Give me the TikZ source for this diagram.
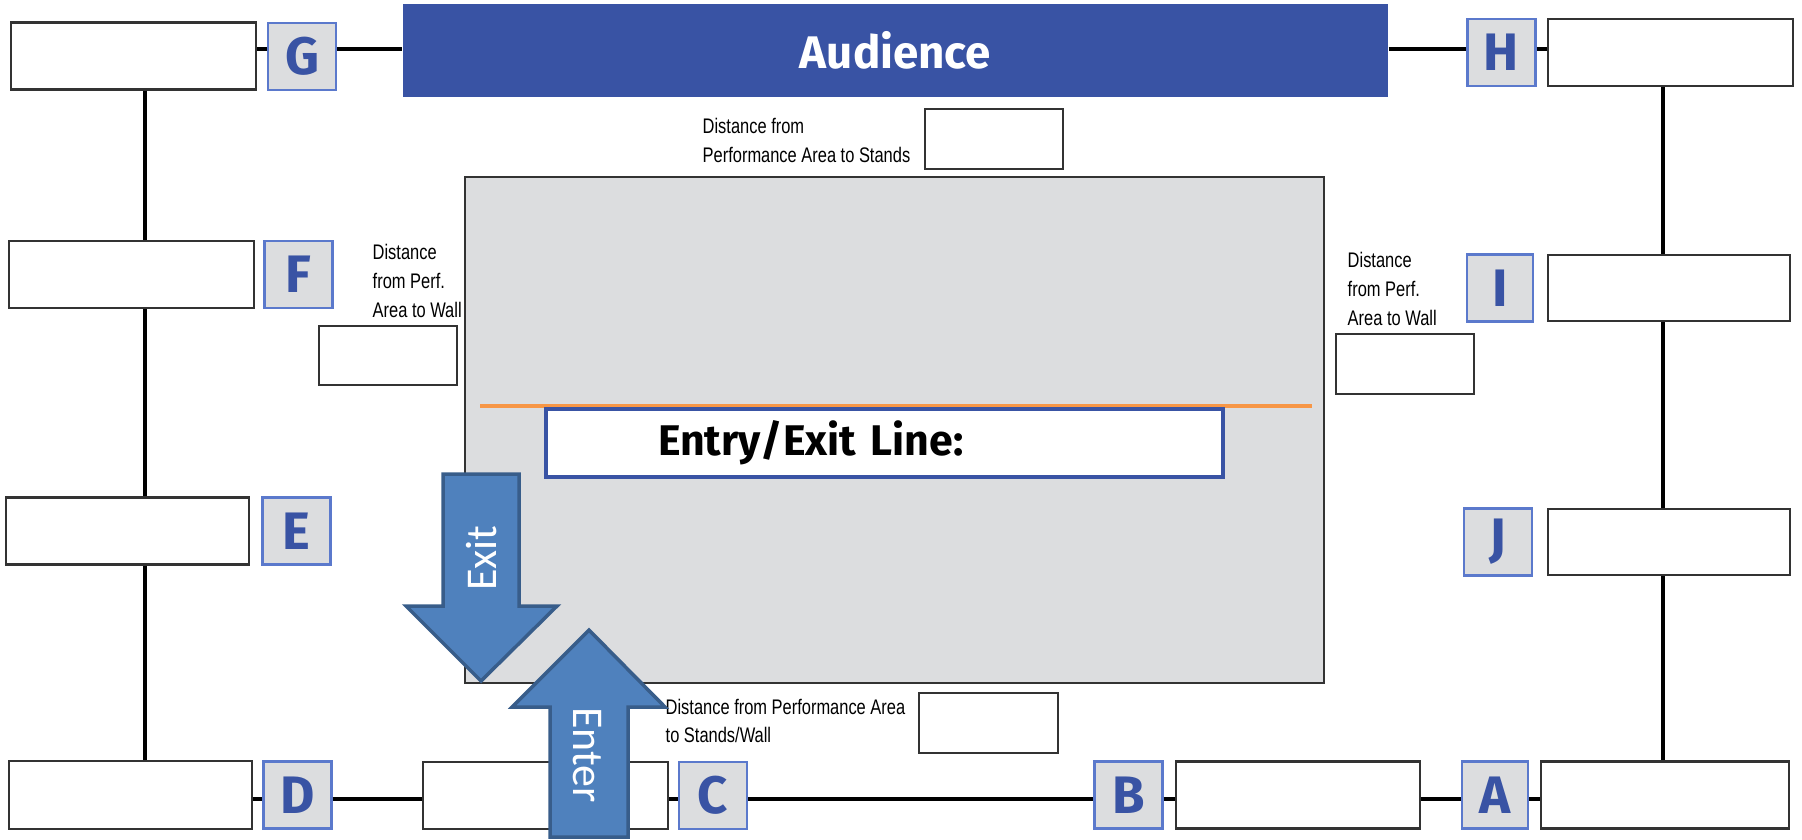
\documentclass[tikz,border=0pt]{standalone}
\usepackage{fontspec}
\newfontfamily\tagfont{Fira Sans}
\newfontfamily\narrowfont{Liberation Sans}[FakeStretch=0.78]
\newfontfamily\arrowfont{Carlito}
\definecolor{tagblue}{HTML}{3953A4}
\definecolor{tagedge}{HTML}{5B79CC}
\definecolor{stagegray}{HTML}{DCDDDF}
\definecolor{boxedge}{HTML}{333333}
\definecolor{arrowfill}{HTML}{4F81BD}
\definecolor{arrowedge}{HTML}{385D8A}
\definecolor{linecolor}{HTML}{F79646}
\tikzset{
	ansbox/.style={draw=boxedge, fill=white, line width=0.6pt, minimum width=2.45cm, minimum height=0.67cm, inner sep=0pt},
	tagbox/.style={draw=tagedge, fill=stagegray, line width=0.6pt, minimum width=0.68cm, minimum height=0.67cm, inner sep=0pt, text=tagblue, font=\tagfont\bfseries\fontsize{15}{15}\selectfont},
	distbox/.style={draw=boxedge, fill=white, line width=0.6pt, minimum width=1.38cm, minimum height=0.6cm, inner sep=0pt},
	disttext/.style={anchor=north west, inner sep=0pt, align=left, font=\narrowfont\fontsize{6}{8.2}\selectfont},
	chain/.style={draw=black, line width=0.9pt},
	arrowbody/.style={fill=arrowfill, draw=arrowedge, line width=1pt, line join=miter},
	arrowtext/.style={text=white, font=\arrowfont\fontsize{12.5}{12.5}\selectfont, inner sep=0pt}
}
\begin{document}
\begin{tikzpicture}
	\useasboundingbox (0,0) rectangle (18.02,-8.39);
	\draw[draw=boxedge, fill=stagegray, line width=0.7pt] (4.65,-1.77) rectangle (13.24,-6.83);
	\node[ansbox] (gbox) at (1.335,-0.56) {};
	\node[tagbox] (g) at (3.02,-0.565) {G};
	\node[fill=tagblue, minimum width=9.85cm, minimum height=0.93cm, inner sep=0pt, text=white, font=\tagfont\bfseries\fontsize{13}{13}\selectfont] (audience) at (8.955,-0.505) {Audience};
	\node[tagbox] (h) at (15.015,-0.525) {H};
	\node[ansbox] (hbox) at (16.705,-0.525) {};
	\node[ansbox] (fbox) at (1.315,-2.745) {};
	\node[tagbox] (f) at (2.985,-2.745) {F};
	\node[ansbox, minimum width=2.43cm] (ebox) at (1.275,-5.31) {};
	\node[tagbox] (e) at (2.965,-5.31) {E};
	\node[ansbox, minimum width=2.43cm, minimum height=0.68cm] (dbox) at (1.305,-7.95) {};
	\node[tagbox] (d) at (2.975,-7.95) {D};
	\node[ansbox] (cbox) at (5.455,-7.955) {};
	\node[tagbox] (c) at (7.13,-7.955) {C};
	\node[tagbox] (b) at (11.285,-7.95) {B};
	\node[ansbox, minimum width=2.44cm] (bbox) at (12.98,-7.95) {};
	\node[tagbox, minimum width=0.66cm] (a) at (14.95,-7.95) {A};
	\node[ansbox, minimum width=2.48cm] (abox) at (16.65,-7.95) {};
	\node[tagbox, minimum width=0.66cm] (i) at (15.0,-2.88) {I};
	\node[ansbox, minimum width=2.42cm, minimum height=0.66cm] (ibox) at (16.69,-2.88) {};
	\node[tagbox] (j) at (14.98,-5.42) {J};
	\node[ansbox, minimum width=2.42cm, minimum height=0.66cm] (jbox) at (16.69,-5.42) {};
	\coordinate (lcol) at (1.45,0);
	\coordinate (rcol) at (16.63,0);
	\coordinate (toprow) at (0,-0.49);
	\coordinate (botrow) at (0,-7.99);
	\draw[chain] (gbox.east |- toprow) -- (g.west |- toprow);
	\draw[chain] (g.east |- toprow) -- (audience.west |- toprow);
	\draw[chain] (audience.east |- toprow) -- (h.west |- toprow);
	\draw[chain] (h.east |- toprow) -- (hbox.west |- toprow);
	\draw[chain] (gbox.south -| lcol) -- (fbox.north -| lcol);
	\draw[chain] (fbox.south -| lcol) -- (ebox.north -| lcol);
	\draw[chain] (ebox.south -| lcol) -- (dbox.north -| lcol);
	\draw[chain] (hbox.south -| rcol) -- (ibox.north -| rcol);
	\draw[chain] (ibox.south -| rcol) -- (jbox.north -| rcol);
	\draw[chain] (jbox.south -| rcol) -- (abox.north -| rcol);
	\draw[chain] (dbox.east |- botrow) -- (d.west |- botrow);
	\draw[chain] (d.east |- botrow) -- (cbox.west |- botrow);
	\draw[chain] (cbox.east |- botrow) -- (c.west |- botrow);
	\draw[chain] (c.east |- botrow) -- (b.west |- botrow);
	\draw[chain] (b.east |- botrow) -- (bbox.west |- botrow);
	\draw[chain] (bbox.east |- botrow) -- (a.west |- botrow);
	\draw[chain] (a.east |- botrow) -- (abox.west |- botrow);
	\node[disttext] (standstext) at (7.02,-1.18) {Distance from\\Performance Area to Stands};
	\node[distbox] (standsbox) at (9.94,-1.39) {};
	\node[disttext] (lwalltext) at (3.72,-2.44) {Distance\\from Perf.\\Area to Wall};
	\node[distbox, minimum height=0.59cm] (lwallbox) at (3.88,-3.555) {};
	\node[disttext] (rwalltext) at (13.47,-2.52) {Distance\\from Perf.\\Area to Wall};
	\node[distbox] (rwallbox) at (14.05,-3.64) {};
	\node[disttext] (walltext) at (6.65,-6.98) {Distance from Performance Area\\to Stands/Wall};
	\node[distbox, minimum width=1.39cm] (wallbox) at (9.885,-7.23) {};
	\draw[draw=linecolor, line width=1pt] (4.80,-4.06) -- (13.12,-4.06);
	\node[draw=tagblue, fill=white, line width=1pt, minimum height=0.68cm, text width=4.53cm, inner xsep=1.12cm, inner ysep=0pt, align=left, font=\tagfont\bfseries\fontsize{12.2}{12.2}\selectfont] (entry) at (8.845,-4.43) {Entry/Exit Line:};
	\draw[arrowbody] (4.43,-4.74) -- (5.19,-4.74) -- (5.19,-6.06) -- (5.57,-6.06) -- (4.81,-6.81) -- (4.06,-6.06) -- (4.43,-6.06) -- cycle;
	\node[arrowtext, rotate=90] (exit) at (4.82,-5.58) {Exit};
	\draw[arrowbody] (5.50,-8.37) -- (5.50,-7.07) -- (5.12,-7.07) -- (5.89,-6.30) -- (6.65,-7.07) -- (6.28,-7.07) -- (6.28,-8.37) -- cycle;
	\node[arrowtext, rotate=-90] (enter) at (5.87,-7.55) {Enter};
\end{tikzpicture}
\end{document}
